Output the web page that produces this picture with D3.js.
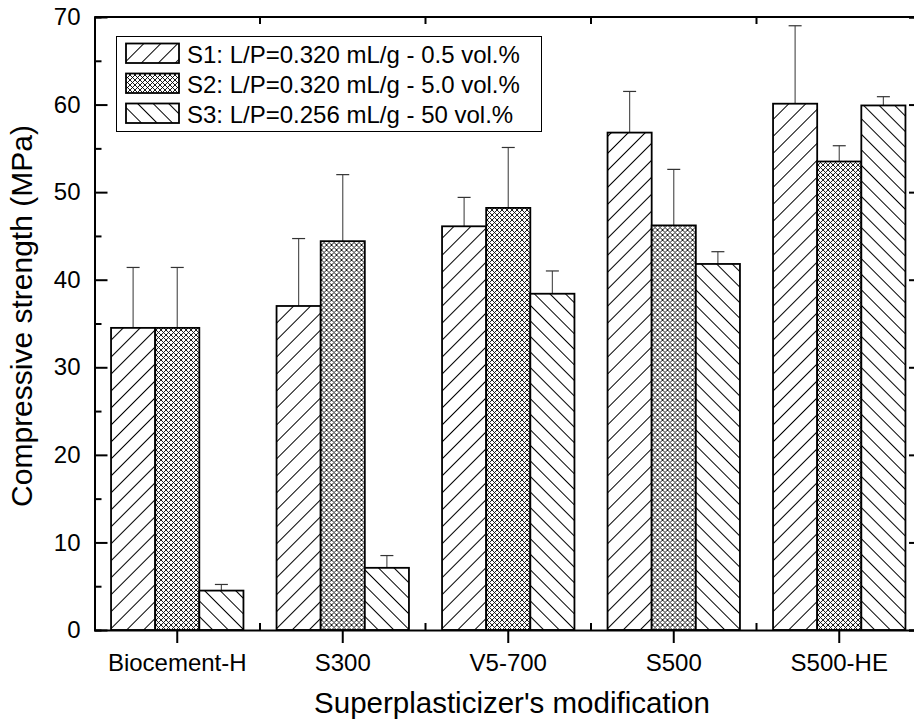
<!DOCTYPE html>
<html>
<head>
<meta charset="utf-8">
<script src="https://cdn.jsdelivr.net/npm/d3@7"></script>
<style>
  body { margin: 0; background: #fff; }
  svg text { font-family: Arial, "Liberation Sans", sans-serif; fill: #000; }
</style>
</head>
<body>
<svg id="chart" width="914" height="724"></svg>
<script>
// data
var categories = ["Biocement-H", "S300", "V5-700", "S500", "S500-HE"];
var seriesNames = ["S1: L/P=0.320 mL/g - 0.5 vol.%", "S2: L/P=0.320 mL/g - 5.0 vol.%", "S3: L/P=0.256 mL/g - 50 vol.%"];
var s1 = [34.5, 37.0, 46.1, 56.8, 60.1];
var s2 = [34.5, 44.4, 48.2, 46.2, 53.5];
var s3 = [4.5, 7.1, 38.4, 41.8, 59.9];
var s1err = [6.9, 7.7, 3.3, 4.7, 8.9];
var s2err = [6.9, 7.6, 6.9, 6.4, 1.8];
var s3err = [0.7, 1.4, 2.6, 1.4, 1.0];
var yTicks = [0, 10, 20, 30, 40, 50, 60, 70];

var values = [s1, s2, s3];
var errs = [s1err, s2err, s3err];
var patterns = ["hatchA", "cross", "hatchB"];

var svg = d3.select("#chart");
var mLeft = 94.5, mRight = 922, mTop = 17, mBottom = 630;

var x0 = d3.scaleBand().domain(categories).range([mLeft, mRight]).paddingInner(0.2).paddingOuter(0.1);
var x1 = d3.scaleBand().domain([0, 1, 2]).range([0, x0.bandwidth()]);
var y = d3.scaleLinear().domain([0, 70]).range([mBottom, mTop]);

// patterns
var defs = svg.append("defs");
function hatch(id, angle, gap) {
  var p = defs.append("pattern").attr("id", id)
    .attr("patternUnits", "userSpaceOnUse")
    .attr("width", gap).attr("height", gap)
    .attr("patternTransform", "rotate(" + angle + ")");
  p.append("rect").attr("width", gap).attr("height", gap).attr("fill", "#fff");
  p.append("line").attr("x1", 0.5).attr("y1", 0).attr("x2", 0.5).attr("y2", gap)
    .attr("stroke", "#000").attr("stroke-width", 1);
}
hatch("hatchA", 45, 12);
hatch("hatchB", -45, 11);
var c = defs.append("pattern").attr("id", "cross")
  .attr("patternUnits", "userSpaceOnUse").attr("width", 5).attr("height", 5);
c.append("rect").attr("width", 5).attr("height", 5).attr("fill", "#fff");
c.append("path").attr("d", "M0,0L5,5M5,0L0,5M-1,4L1,6M4,-1L6,1M-1,1L1,-1M4,6L6,4")
  .attr("stroke", "#000").attr("stroke-width", 0.9).attr("fill", "none");

// bars
var groups = svg.append("g").selectAll("g").data(categories).join("g")
  .attr("transform", function (d) { return "translate(" + x0(d) + ",0)"; });

groups.each(function (cat, ci) {
  var g = d3.select(this);
  for (var s = 0; s < 3; s++) {
    var v = values[s][ci], e = errs[s][ci];
    var cx = x1(s) + x1.bandwidth() / 2;
    g.append("line").attr("x1", cx).attr("x2", cx)
      .attr("y1", y(v)).attr("y2", y(v + e))
      .attr("stroke", "#555").attr("stroke-width", 1.2);
    g.append("line").attr("x1", cx - 6.5).attr("x2", cx + 6.5)
      .attr("y1", y(v + e)).attr("y2", y(v + e))
      .attr("stroke", "#333").attr("stroke-width", 1.2);
    g.append("rect")
      .attr("x", x1(s)).attr("width", x1.bandwidth())
      .attr("y", y(v)).attr("height", y(0) - y(v))
      .attr("fill", "url(#" + patterns[s] + ")")
      .attr("stroke", "#000").attr("stroke-width", 1.8);
  }
});

// axes
var axisG = svg.append("g");
var yMajor = axisG.append("g").attr("transform", "translate(" + mLeft + ",0)")
  .call(d3.axisLeft(y).tickValues(yTicks).tickSizeInner(-13).tickSizeOuter(0).tickPadding(14));
var yMinor = axisG.append("g").attr("transform", "translate(" + mLeft + ",0)")
  .call(d3.axisLeft(y).tickValues(d3.range(5, 70, 10)).tickSize(-7).tickFormat(""));
var yRight = axisG.append("g").attr("transform", "translate(" + mRight + ",0)")
  .call(d3.axisRight(y).tickValues(yTicks).tickSize(-13).tickFormat(""));

var xMajor = axisG.append("g").attr("transform", "translate(0," + mBottom + ")")
  .call(d3.axisBottom(x0).tickSizeInner(13).tickSizeOuter(0).tickPadding(11));

var bounds = categories.slice(1).map(function (d) { return x0(d) - x0.step() * 0.1; });
axisG.append("g").selectAll("line").data(bounds).join("line")
  .attr("x1", function (d) { return d; }).attr("x2", function (d) { return d; })
  .attr("y1", mBottom).attr("y2", mBottom - 7);
axisG.append("g").selectAll("line").data(bounds).join("line")
  .attr("x1", function (d) { return d; }).attr("x2", function (d) { return d; })
  .attr("y1", mTop).attr("y2", mTop + 7);
axisG.append("line").attr("x1", mLeft).attr("x2", mRight).attr("y1", mTop).attr("y2", mTop);

axisG.selectAll("line, path").attr("stroke", "#000").attr("stroke-width", 2);
axisG.selectAll("path.domain").attr("fill", "none");
axisG.selectAll(".tick text")
  .attr("font-family", "Arial, 'Liberation Sans', sans-serif")
  .attr("font-size", 24);

// axis titles
svg.append("text").attr("x", 512).attr("y", 713).attr("text-anchor", "middle")
  .attr("font-size", 29.5).text("Superplasticizer's modification");
svg.append("text").attr("transform", "translate(32,316) rotate(-90)")
  .attr("text-anchor", "middle").attr("font-size", 30).text("Compressive strength (MPa)");

// legend
var legend = svg.append("g");
legend.append("rect").attr("x", 116.5).attr("y", 36.5).attr("width", 425).attr("height", 95)
  .attr("fill", "#fff").attr("stroke", "#000").attr("stroke-width", 1);
var rows = legend.selectAll("g").data(seriesNames).join("g")
  .attr("transform", function (d, i) { return "translate(0," + (i * 30) + ")"; });
rows.append("rect").attr("x", 126).attr("y", 43.5).attr("width", 53).attr("height", 19.5)
  .attr("fill", function (d, i) { return "url(#" + patterns[i] + ")"; })
  .attr("stroke", "#000").attr("stroke-width", 1.8);
rows.append("text").attr("x", 187).attr("y", 63).attr("font-size", 24)
  .text(function (d) { return d; });
</script>
</body>
</html>
